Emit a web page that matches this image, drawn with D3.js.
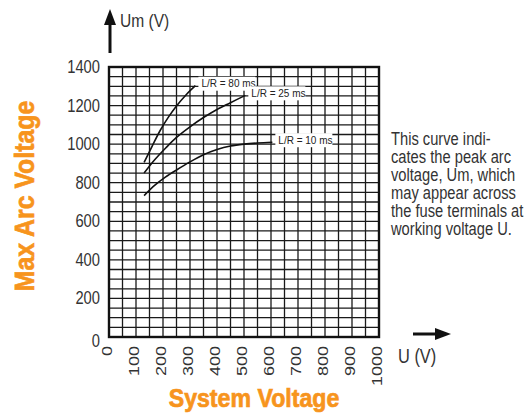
<!DOCTYPE html>
<html>
<head>
<meta charset="utf-8">
<script src="https://cdn.jsdelivr.net/npm/d3@7"></script>
<style>
body { margin: 0; background: #fff; }
text { fill: #333; font-family: "Liberation Sans", Arial, sans-serif; }
.title { font-weight: bold; fill: #f7941d; stroke: #f7941d; stroke-width: 0.7; }
</style>
</head>
<body>
<div id="chart"></div>
<script>
var xTicks = [0, 100, 200, 300, 400, 500, 600, 700, 800, 900, 1000];
var yTicks = [0, 200, 400, 600, 800, 1000, 1200, 1400];

var curveNames = ["L/R = 80 ms", "L/R = 25 ms", "L/R = 10 ms"];
var lr80 = [[130, 905], [160, 990], [190, 1072], [220, 1140], [250, 1198], [285, 1255], [320, 1303]];
var lr25 = [[130, 850], [170, 920], [210, 980], [250, 1035], [300, 1090], [350, 1138], [400, 1180], [450, 1215], [505, 1253]];
var lr10 = [[130, 733], [170, 787], [210, 830], [250, 866], [300, 908], [350, 945], [400, 972], [450, 990], [500, 1000], [550, 1006], [605, 1010]];

var note = ["This curve indi-", "cates the peak arc", "voltage, Um, which",
            "may appear across", "the fuse terminals at", "working voltage U."];

var W = 532, H = 415;
var plotLeft = 109, plotTop = 67, size = 270;
var narrow = 0.82; // Helvetica Narrow look

var svg = d3.select("#chart").append("svg")
    .attr("width", W)
    .attr("height", H);

var x = d3.scaleLinear().domain([0, 1000]).range([plotLeft, plotLeft + size]);
var y = d3.scaleLinear().domain([0, 1400]).range([plotTop + size, plotTop]);

// grid, 50 V steps
var grid = svg.append("g").attr("stroke", "#1a1a1a").attr("stroke-width", 1.3);
grid.selectAll(".v")
    .data(d3.range(50, 1000, 50))
    .enter().append("line")
    .attr("x1", function(d) { return x(d); })
    .attr("x2", function(d) { return x(d); })
    .attr("y1", y(0))
    .attr("y2", y(1400));
grid.selectAll(".h")
    .data(d3.range(50, 1400, 50))
    .enter().append("line")
    .attr("y1", function(d) { return y(d); })
    .attr("y2", function(d) { return y(d); })
    .attr("x1", x(0))
    .attr("x2", x(1000));

svg.append("rect")
    .attr("x", x(0))
    .attr("y", y(1400))
    .attr("width", size)
    .attr("height", size)
    .attr("fill", "none")
    .attr("stroke", "#111")
    .attr("stroke-width", 2.4);

// curves
var line = d3.line()
    .x(function(d) { return x(d[0]); })
    .y(function(d) { return y(d[1]); })
    .curve(d3.curveCatmullRom);

var series = [lr80, lr25, lr10];
svg.selectAll(".curve")
    .data(series)
    .enter().append("path")
    .attr("d", line)
    .attr("fill", "none")
    .attr("stroke", "#111")
    .attr("stroke-width", 1.6);

// curve labels with white boxes
var labels = svg.selectAll(".lab")
    .data(series)
    .enter().append("g")
    .attr("transform", function(d) {
        var last = d[d.length - 1];
        return "translate(" + (x(last[0]) + 6) + "," + (y(last[1]) - 2) + ")";
    });
labels.append("rect")
    .attr("x", -3)
    .attr("y", -7)
    .attr("width", 57)
    .attr("height", 14)
    .attr("fill", "#fff");
labels.append("text")
    .attr("y", 3.5)
    .style("font-size", "10px")
    .style("fill", "#222")
    .text(function(d, i) { return curveNames[i]; });

// y tick labels
svg.selectAll(".yt")
    .data(yTicks)
    .enter().append("text")
    .attr("transform", function(d) {
        return "translate(" + (plotLeft - 9) + "," + (y(d) + (d === 0 ? 10 : 6)) + ") scale(" + narrow + ",1)";
    })
    .attr("text-anchor", "end")
    .style("font-size", "18px")
    .text(function(d) { return d; });

// x tick labels, rotated
svg.selectAll(".xt")
    .data(xTicks)
    .enter().append("text")
    .attr("transform", function(d) {
        return "translate(" + (x(d) + 3) + "," + (y(0) + 9) + ") rotate(-90) scale(1," + narrow + ")";
    })
    .attr("text-anchor", "end")
    .style("font-size", "18px")
    .text(function(d) { return d; });

// axis arrows
svg.append("defs").append("marker")
    .attr("id", "arrow")
    .attr("viewBox", "0 0 16 12")
    .attr("refX", 0)
    .attr("refY", 6)
    .attr("markerWidth", 16 / 3)
    .attr("markerHeight", 4)
    .attr("markerUnits", "strokeWidth")
    .attr("orient", "auto")
    .append("path")
    .attr("d", "M0,0 L16,6 L0,12 Z")
    .attr("fill", "#111");

svg.append("line")
    .attr("x1", 110).attr("y1", 53)
    .attr("x2", 110).attr("y2", 25)
    .attr("stroke", "#111").attr("stroke-width", 3)
    .attr("marker-end", "url(#arrow)");
svg.append("line")
    .attr("x1", 413).attr("y1", 334)
    .attr("x2", 435).attr("y2", 334)
    .attr("stroke", "#111").attr("stroke-width", 3)
    .attr("marker-end", "url(#arrow)");

svg.append("text")
    .attr("transform", "translate(120,27) scale(" + narrow + ",1)")
    .style("font-size", "19px")
    .text("Um (V)");
svg.append("text")
    .attr("transform", "translate(398,363) scale(" + narrow + ",1)")
    .style("font-size", "20px")
    .text("U (V)");

// note
svg.append("g").selectAll("text")
    .data(note)
    .enter().append("text")
    .attr("transform", function(d, i) {
        return "translate(391," + (145 + i * 18) + ") scale(0.84,1)";
    })
    .style("font-size", "17.5px")
    .text(function(d) { return d; });

// titles
svg.append("text")
    .attr("class", "title")
    .attr("transform", "translate(34,196) rotate(-90) scale(0.92,1)")
    .attr("text-anchor", "middle")
    .style("font-size", "27px")
    .text("Max Arc Voltage");
svg.append("text")
    .attr("class", "title")
    .attr("transform", "translate(254,407) scale(0.89,1)")
    .attr("text-anchor", "middle")
    .style("font-size", "26px")
    .text("System Voltage");
</script>
</body>
</html>
